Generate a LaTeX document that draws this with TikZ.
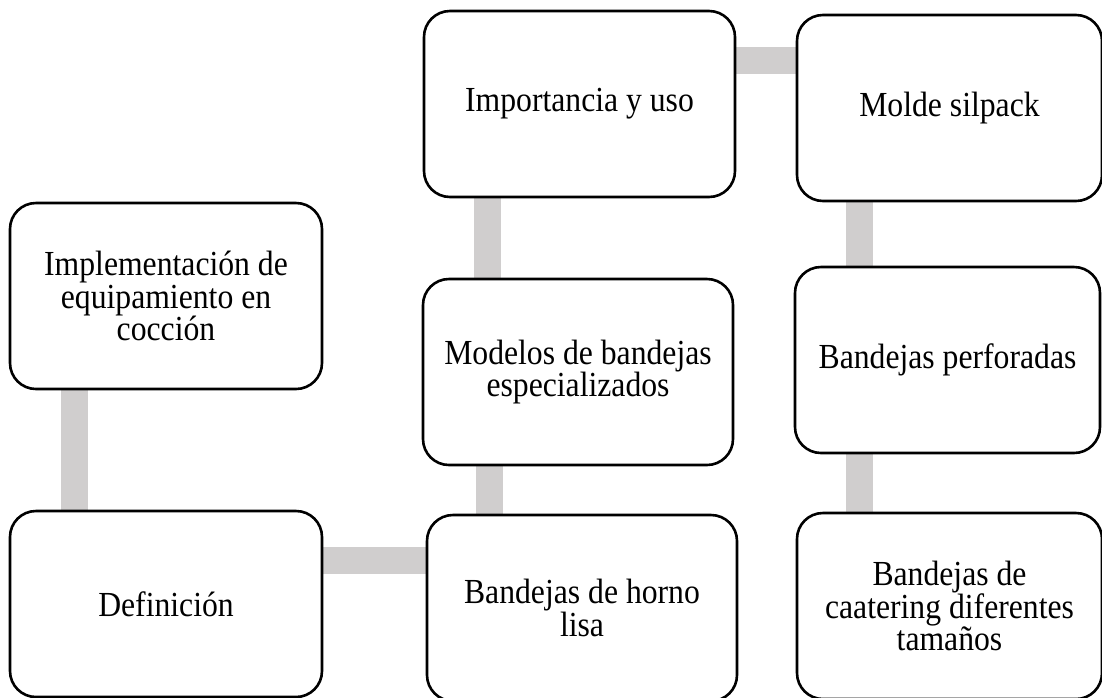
\documentclass[tikz,border=0pt]{standalone}
\usepackage{fontspec}
\setmainfont[FakeStretch=0.9]{Liberation Serif}
\usepackage{tikz}
\usetikzlibrary{positioning}
\usetikzlibrary{calc,backgrounds}
\definecolor{linkgray}{HTML}{D0CECE}
\tikzset{main node/.style={rectangle,rounded corners=13pt,draw,line width=1.3pt,fill=white,outer sep=0pt,inner sep=0pt,minimum width=156pt,minimum height=93pt,align=center,font=\fontsize{17.6}{16.2}\selectfont},
link/.style={draw=linkgray,line width=13.5pt},}

\begin{document}
\begin{tikzpicture}[x=0.5pt,y=-0.5pt]
    \useasboundingbox (0,0) rectangle (1102,697);
    \node[main node] (1) at (166,296) {Implementación de\\equipamiento en\\cocción};
    \node[main node] (2) at (166,604) {Definición};
    \node[main node,minimum width=155pt] (3) at (582,608) {Bandejas de horno\\lisa};
    \node[main node,minimum width=155pt] (4) at (578,372) {Modelos de bandejas\\especializados};
    \node[main node,minimum width=155.5pt] (5) at (579.5,104) {Importancia y uso};
    \node[main node,minimum width=152.5pt] (6) at (949.5,108) {Molde silpack};
    \node[main node,minimum width=152.5pt] (7) at (947.5,360) {Bandejas perforadas};
    \node[main node,minimum width=152.5pt] (8) at (949.5,606) {Bandejas de\\caatering diferentes\\tamaños};

    % grey links behind the boxes
    \begin{scope}[on background layer]
    \coordinate (a) at ($(1.south west)+(64,0)$);
    \coordinate (b) at ($(2.north east)+(0,49.5)$);
    \coordinate (c) at ($(3.north west)+(62.5,0)$);
    \coordinate (d) at ($(4.north west)+(64.5,0)$);
    \coordinate (e) at ($(5.north east)+(0,49.5)$);
    \coordinate (f) at ($(6.south west)+(62.5,0)$);
    \coordinate (g) at ($(7.south west)+(64.5,0)$);
    \draw[link] (a) -- (a |- 2.north);
    \draw[link] (b) -- (b -| 3.west);
    \draw[link] (c) -- (c |- 4.south);
    \draw[link] (d) -- (d |- 5.south);
    \draw[link] (e) -- (e -| 6.west);
    \draw[link] (f) -- (f |- 7.north);
    \draw[link] (g) -- (g |- 8.north);
    \end{scope}
\end{tikzpicture}
\end{document}
